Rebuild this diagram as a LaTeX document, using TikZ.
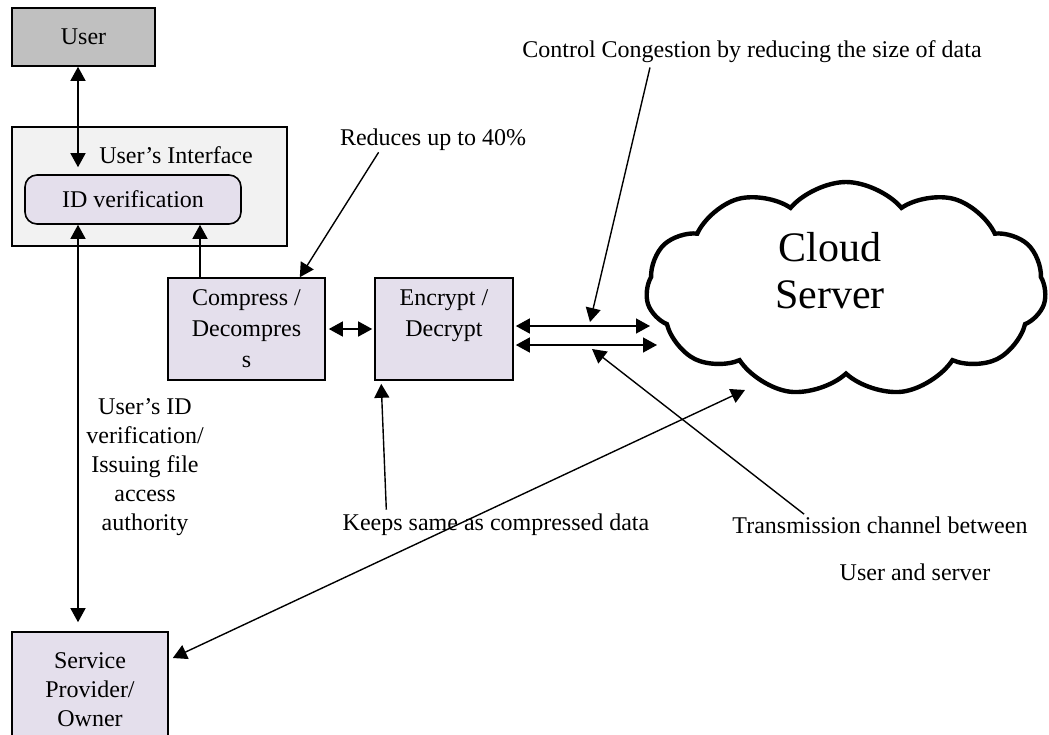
\documentclass[tikz,border=0pt]{standalone}
\usepackage{fontspec}
\setmainfont{Liberation Serif}
\usetikzlibrary{arrows.meta,shapes.symbols,calc}
\definecolor{usergray}{HTML}{C0C0C0}
\definecolor{ifacegray}{HTML}{F2F2F2}
\definecolor{lavender}{HTML}{E4DFEC}

\begin{document}
\begin{tikzpicture}[x=0.5pt,y=-0.5pt,font=\fontsize{12}{14.5}\selectfont,
    box/.style={draw,line width=0.8pt,fill=lavender,align=center,inner sep=0pt},
    dbl/.style={{Triangle[length=7pt,width=7.5pt]}-{Triangle[length=7pt,width=7.5pt]},line width=0.7pt},
    tip/.style={-{Triangle[length=7pt,width=7.5pt]},line width=0.7pt},
    lbl/.style={align=center,inner sep=0pt}]
    \useasboundingbox (0,0) rectangle (1049,734);

    \node[box,fill=usergray,minimum width=71.5pt,minimum height=29pt] (user) at (83.5,37) {User};
    \node[draw,line width=0.8pt,fill=ifacegray,minimum width=137.5pt,minimum height=59.5pt] (iface) at (149.5,186.5) {};
    \node[lbl] (ifacetxt) at (176,155) {User's Interface};
    \node[box,rounded corners=6pt,minimum width=108pt,minimum height=24.5pt] (idv) at (133,199.5) {ID verification};
    \node[box,minimum width=78.5pt,minimum height=51pt,font=\fontsize{12}{15.5}\selectfont] (comp) at (246.5,329) {Compress /\\Decompres\\s};
    \node[box,minimum width=69pt,minimum height=51pt,font=\fontsize{12}{15.5}\selectfont] (enc) at (444,329) {Encrypt /\\Decrypt\\\mbox{}};
    \node[box,minimum width=78pt,minimum height=58pt] (sp) at (90,690) {Service\\Provider/\\Owner};

    \node[cloud,draw,line width=2.2pt,cloud puffs=11,cloud puff arc=100,aspect=2,minimum width=200pt,minimum height=107pt] (cloud) at (846,289) {};
    \node[lbl,font=\fontsize{21}{23.5}\selectfont] (cloudtxt) at (830,271) {Cloud\\Server};

    \node[lbl] (lblauth) at (145,467) {User's ID\\verification/\\Issuing file\\access\\authority};
    \node[lbl] (lblred) at (433,140) {Reduces up to 40\%};
    \node[lbl] (lblcong) at (752,52) {Control Congestion by reducing the size of data};
    \node[lbl] (lblkeep) at (496,525) {Keeps same as compressed data};
    \node[lbl] (lbltrans) at (880,525) {Transmission channel between};
    \node[lbl] (lbluser) at (915,572) {User and server};

    \coordinate (ux) at (78,0);
    \coordinate (cx) at (200,0);
    \coordinate (chA) at (650,326);
    \coordinate (chB) at (657,345);
    \coordinate (clA) at (745,390);

    \draw[dbl] (user.south -| ux) -- ($(idv.north -| ux)+(0,-7)$);
    \draw[dbl] (idv.south -| ux) -- ($(sp.north -| ux)+(0,-9)$);
    \draw[tip] (comp.north -| cx) -- (idv.south -| cx);
    \draw[dbl] ($(comp.east)+(3,0)$) -- ($(enc.west)+(-2,0)$);
    \draw[dbl] ($(enc.east |- chA)+(2,0)$) -- (chA);
    \draw[dbl] ($(enc.east |- chB)+(2,0)$) -- (chB);
    \draw[dbl] ($(sp.east)+(4,-32)$) -- (clA);

    \draw[tip] ($(lblred.south west)+(39,1)$) -- ($(comp.north east)+(-26,0)$);
    \draw[tip] ($(lblcong.south west)+(128,4)$) -- ($(chA)+(-60,-4)$);
    \draw[tip] ($(lbltrans.north west)+(72,-2)$) -- ($(chB)+(-65,4)$);
    \draw[tip] ($(lblkeep.north west)+(44,-4)$) -- ($(enc.south west)+(7,3)$);
\end{tikzpicture}
\end{document}
